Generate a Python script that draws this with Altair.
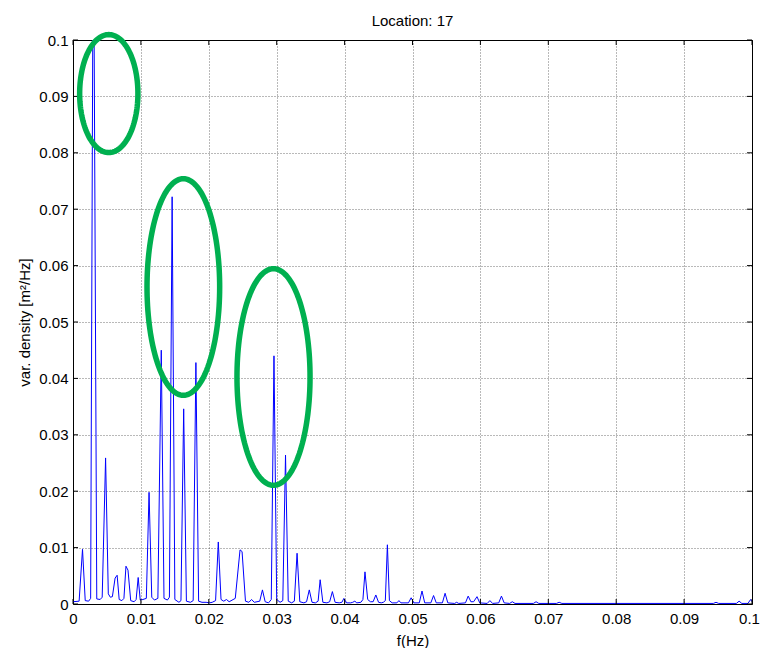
import altair as alt
import numpy as np
import pandas as pd

# Spectrum samples (f in Hz, variance density in m^2/Hz)
freq = [
    0.0000, 0.0009, 0.0014, 0.0018, 0.0023, 0.0026, 0.0030, 0.0035, 0.0040, 0.0043,
    0.0048, 0.0052, 0.0055, 0.0058, 0.0062, 0.0065, 0.0068, 0.0072, 0.0075, 0.0078,
    0.0081, 0.0085, 0.0090, 0.0093, 0.0096, 0.0099, 0.0103, 0.0108, 0.0112, 0.0116,
    0.0120, 0.0125, 0.0130, 0.0134, 0.0139, 0.0142, 0.0146, 0.0150, 0.0156, 0.0159,
    0.0163, 0.0167, 0.0173, 0.0177, 0.0181, 0.0185, 0.0190, 0.0196, 0.0201, 0.0205,
    0.0210, 0.0214, 0.0218, 0.0222, 0.0226, 0.0230, 0.0239, 0.0246, 0.0249, 0.0254,
    0.0259, 0.0263, 0.0267, 0.0275, 0.0279, 0.0283, 0.0288, 0.0292, 0.0296, 0.0300,
    0.0305, 0.0309, 0.0313, 0.0317, 0.0322, 0.0326, 0.0330, 0.0334, 0.0340, 0.0344,
    0.0348, 0.0352, 0.0357, 0.0361, 0.0364, 0.0368, 0.0374, 0.0378, 0.0382, 0.0386,
    0.0392, 0.0396, 0.0399, 0.0403, 0.0409, 0.0412, 0.0415, 0.0418, 0.0424, 0.0427,
    0.0430, 0.0434, 0.0438, 0.0442, 0.0446, 0.0450, 0.0454, 0.0457, 0.0460, 0.0463,
    0.0466, 0.0470, 0.0477, 0.0480, 0.0483, 0.0494, 0.0498, 0.0502, 0.0510, 0.0514,
    0.0518, 0.0527, 0.0531, 0.0535, 0.0544, 0.0548, 0.0552, 0.0562, 0.0565, 0.0568,
    0.0578, 0.0582, 0.0586, 0.0590, 0.0595, 0.0599, 0.0610, 0.0614, 0.0618, 0.0627,
    0.0631, 0.0635, 0.0643, 0.0647, 0.0651, 0.0678, 0.0682, 0.0686, 0.0712, 0.0716,
    0.0720, 0.0943, 0.0947, 0.0951, 0.0977, 0.0981, 0.0985, 0.0994, 0.0998, 0.1000,
]
psd = [
    0.0004, 0.0005, 0.0097, 0.0006, 0.0005, 0.0010, 0.1300, 0.0009, 0.0008, 0.0012,
    0.0259, 0.0018, 0.0012, 0.0013, 0.0046, 0.0051, 0.0008, 0.0006, 0.0010, 0.0067,
    0.0060, 0.0006, 0.0004, 0.0008, 0.0047, 0.0007, 0.0008, 0.0010, 0.0198, 0.0012,
    0.0007, 0.0010, 0.0450, 0.0010, 0.0007, 0.0012, 0.0722, 0.0008, 0.0003, 0.0006,
    0.0346, 0.0005, 0.0003, 0.0006, 0.0428, 0.0005, 0.0003, 0.0003, 0.0002, 0.0003,
    0.0006, 0.0110, 0.0008, 0.0005, 0.0008, 0.0004, 0.0010, 0.0096, 0.0093, 0.0005,
    0.0003, 0.0008, 0.0003, 0.0005, 0.0025, 0.0004, 0.0002, 0.0008, 0.0440, 0.0008,
    0.0003, 0.0006, 0.0264, 0.0005, 0.0002, 0.0005, 0.0090, 0.0004, 0.0002, 0.0004,
    0.0025, 0.0003, 0.0002, 0.0005, 0.0043, 0.0003, 0.0002, 0.0004, 0.0022, 0.0003,
    0.0002, 0.0003, 0.0010, 0.0002, 0.0002, 0.0003, 0.0005, 0.0002, 0.0003, 0.0008,
    0.0057, 0.0008, 0.0004, 0.0004, 0.0016, 0.0003, 0.0002, 0.0003, 0.0006, 0.0105,
    0.0006, 0.0002, 0.0002, 0.0006, 0.0002, 0.0002, 0.0011, 0.0002, 0.0002, 0.0023,
    0.0002, 0.0002, 0.0015, 0.0002, 0.0002, 0.0019, 0.0002, 0.0001, 0.0003, 0.0001,
    0.0002, 0.0014, 0.0004, 0.0004, 0.0013, 0.0002, 0.0001, 0.0006, 0.0001, 0.0002,
    0.0014, 0.0002, 0.0001, 0.0004, 0.0001, 0.0001, 0.0004, 0.0001, 0.0001, 0.0003,
    0.0001, 0.0001, 0.0003, 0.0001, 0.0001, 0.0005, 0.0001, 0.0001, 0.0008, 0.0004,
]

tick_vals = [0, 0.01, 0.02, 0.03, 0.04, 0.05, 0.06, 0.07, 0.08, 0.09, 0.1]

# Green annotation ellipses (centre and semi-axes in data units)
ell_cx = [0.00527, 0.01625, 0.02953]
ell_cy = [0.0905, 0.0562, 0.04025]
ell_rx = [0.00429, 0.00535, 0.00538]
ell_ry = [0.01046, 0.0192, 0.0192]

W, H = 679, 564
FONT = "Liberation Sans"

spec_df = pd.DataFrame({"f": freq, "v": psd})
tick_df = pd.DataFrame({"f": tick_vals, "v": tick_vals})

theta = np.linspace(0, 2 * np.pi, 145)
ell_rows = []
for k in range(len(ell_cx)):
    for i, th in enumerate(theta):
        ell_rows.append({"id": k, "o": i,
                         "f": ell_cx[k] + ell_rx[k] * np.cos(th),
                         "v": ell_cy[k] + ell_ry[k] * np.sin(th)})
ell_df = pd.DataFrame(ell_rows)

xs = alt.Scale(domain=[0, 0.1], nice=False, zero=False)
ys = alt.Scale(domain=[0, 0.1], nice=False, zero=False)
xax = alt.Axis(values=tick_vals, format="~g", title="f(Hz)", labelFlush=False,
               labelOffset={"condition": {"test": "datum.value >= 0.1", "value": -3}, "value": 0},
               grid=True, ticks=False, labelPadding=7, titlePadding=7)
yax = alt.Axis(values=tick_vals, format="~g", title="var. density [m²/Hz]", labelFlush=False,
               grid=True, ticks=False, labelPadding=5, titlePadding=6)
X = alt.X("f:Q", scale=xs, axis=xax)
Y = alt.Y("v:Q", scale=ys, axis=yax)

line = alt.Chart(spec_df).mark_line(color="#0000FF", strokeWidth=1, clip=True).encode(x=X, y=Y)

tb = alt.Chart(tick_df).mark_rule(color="black", strokeWidth=1).encode(
    x=X, y=alt.value(H), y2=alt.value(H - 5))
tt = alt.Chart(tick_df).mark_rule(color="black", strokeWidth=1).encode(
    x=X, y=alt.value(0), y2=alt.value(5))
tl = alt.Chart(tick_df).mark_rule(color="black", strokeWidth=1).encode(
    y=Y, x=alt.value(0), x2=alt.value(5))
tr = alt.Chart(tick_df).mark_rule(color="black", strokeWidth=1).encode(
    y=Y, x=alt.value(W), x2=alt.value(W - 5))

ell = alt.Chart(ell_df).mark_line(color="#00B050", strokeWidth=5.5, clip=False).encode(
    x=X, y=Y, detail="id:N", order="o:Q",
)

chart = alt.layer(line, tb, tt, tl, tr, ell).properties(
    width=W, height=H, background="white",
    title=alt.TitleParams("Location: 17", font=FONT, fontSize=15, fontWeight="normal",
                          color="black", anchor="middle", offset=0, baseline="bottom", dy=20),
    autosize=alt.AutoSizeParams(type="none"),
    padding={"left": 73, "top": 40, "right": 9, "bottom": 44},
).configure_view(
    stroke="black", strokeWidth=1
).configure_axis(
    labelFont=FONT, labelFontSize=15, labelColor="black",
    titleFont=FONT, titleFontSize=15, titleFontWeight="normal", titleColor="black",
    domain=False, gridColor="#000000", gridDash=[1, 2], gridOpacity=0.55, gridWidth=1,
)

chart.save("out.html", embed_options={"renderer": "svg", "actions": False})
